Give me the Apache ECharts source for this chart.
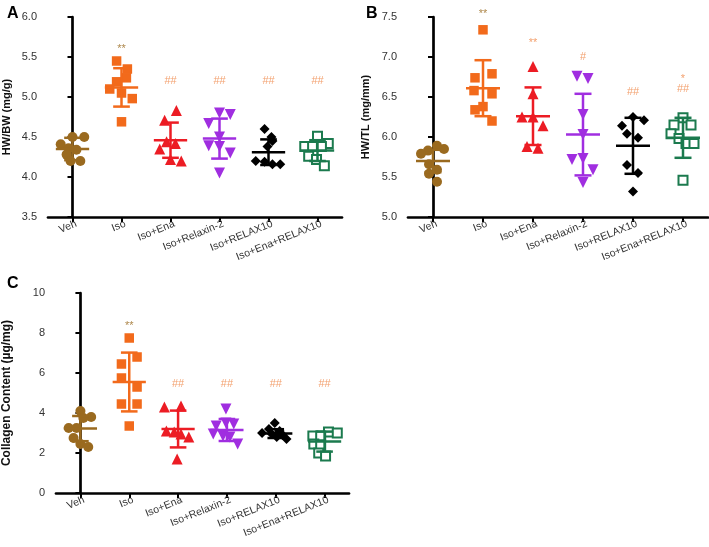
<!DOCTYPE html>
<html><head><meta charset="utf-8">
<script src="https://cdn.jsdelivr.net/npm/echarts@6/dist/echarts.min.js"></script>
<style>html,body{margin:0;padding:0;background:#fff}#c{width:709px;height:547px}</style>
</head><body><div id="c"></div>
<script>
// ---- categories ----
const categories = ['Veh','Iso','Iso+Ena','Iso+Relaxin-2','Iso+RELAX10','Iso+Ena+RELAX10'];

// ---- Panel A: HW/BW (mg/g) ----
const aVeh   = [4.41,4.50,4.50,4.36,4.34,4.28,4.20,4.20];
const aIso   = [5.45,5.35,5.24,5.19,5.10,5.05,4.98,4.69];
const aEna   = [4.83,4.71,4.44,4.42,4.35,4.22,4.20];
const aRlx2  = [4.80,4.78,4.67,4.50,4.39,4.38,4.30,4.05];
const aRlx10 = [4.60,4.50,4.45,4.38,4.20,4.19,4.16,4.16];
const aEnaRlx= [4.51,4.42,4.38,4.38,4.38,4.26,4.22,4.14];
const aMean  = [4.35,5.12,4.46,4.48,4.31,4.33];
const aSd    = [0.14,0.24,0.22,0.25,0.16,0.13];
const aMarks = ['','**','##','##','##','##'];
const aMarkY = [null,5.60,5.20,5.20,5.20,5.20];

// ---- Panel B: HW/TL (mg/mm) ----
const bVeh   = [5.89,5.85,5.83,5.79,5.66,5.59,5.54,5.44];
const bIso   = [7.34,6.79,6.74,6.58,6.54,6.38,6.34,6.20];
const bEna   = [6.88,6.54,6.25,6.25,6.14,5.88,5.86];
const bRlx2  = [6.76,6.73,6.28,6.03,5.73,5.72,5.59,5.43];
const bRlx10 = [6.25,6.21,6.14,6.04,5.99,5.65,5.55,5.32];
const bEnaRlx= [6.24,6.15,6.15,6.04,5.98,5.92,5.92,5.46];
const bMean  = [5.70,6.61,6.26,6.03,5.89,5.99];
const bSd    = [0.14,0.35,0.36,0.51,0.35,0.25];
const bMarks = ['','**','**','#','##','##'];
const bMarkY = [null,7.54,7.17,7.0,6.56,6.60];
const bMarks2 = ['','','','','','*'];
const bMarkY2 = [null,null,null,null,null,6.72];

// ---- Panel C: Collagen Content (µg/mg) ----
const cVeh   = [4.10,3.80,3.75,3.25,3.25,2.75,2.45,2.30];
const cIso   = [7.75,6.80,6.45,5.75,5.30,4.45,4.45,3.35];
const cEna   = [4.35,4.30,3.10,3.05,2.95,2.80,1.70];
const cRlx2  = [4.20,3.50,3.45,3.35,2.95,2.85,2.80,2.45];
const cRlx10 = [3.50,3.20,3.10,3.00,2.95,2.90,2.80,2.70];
const cEnaRlx= [3.05,3.00,2.85,2.85,2.45,2.40,2.00,1.85];
const cMean  = [3.22,5.55,3.20,3.15,2.97,2.57];
const cSd    = [0.63,1.47,0.92,0.55,0.22,0.50];
const cMarks = ['','**','##','##','##','##'];
const cMarkY = [null,8.35,5.45,5.45,5.45,5.45];

// ---- horizontal jitter of points (fraction of a category) ----
const jA = [
  [-0.24,0,0.24,-0.08,0.08,-0.12,-0.04,0.16],
  [-0.1,0.12,0.1,-0.1,-0.24,0,0.22,0],
  [0.12,-0.12,-0.08,0.1,-0.22,0,0.22],
  [0,0.22,-0.22,0,-0.22,0,0.22,0],
  [-0.08,0.06,0.08,-0.02,-0.26,-0.08,0.08,0.24],
  [0,0.22,-0.26,-0.1,0.08,-0.18,-0.02,0.14]
];
const jB = [
  [0.08,0.22,-0.1,-0.24,-0.08,0.08,-0.08,0.08],
  [0,0.18,-0.16,-0.18,0.18,0,-0.16,0.18],
  [0,0,-0.22,0,0.2,-0.12,0.1],
  [-0.12,0.1,0,0,0,-0.22,0.2,0],
  [0,0.22,-0.22,-0.12,0.1,-0.12,0.1,0],
  [0,-0.18,0.16,-0.24,-0.08,0.06,0.22,0]
];
const jC = [
  [0,0.22,0.06,-0.24,-0.08,-0.14,0,0.16],
  [0,0.16,-0.16,-0.16,0.16,-0.16,0.16,0],
  [0.06,-0.28,-0.24,-0.08,0.06,0.22,-0.02],
  [-0.02,-0.02,0.14,-0.22,-0.28,-0.08,0.06,0.22],
  [-0.02,-0.14,0.08,-0.28,-0.08,0.14,0.02,0.22],
  [0.08,0.26,-0.24,-0.08,-0.22,-0.08,-0.12,0.02]
];

const colors = ['#9a6a1f','#f26a1b','#ec1c24','#a02ee0','#000000','#1b7a4e'];
const markColorStrong = '#9a6a1f';
const markColor = '#f08a4b';
const symbols = ['circle','rect','triangle','triangle','diamond','rect'];
const symRot  = [0,0,0,180,0,0];
const symSize = [10,9.5,11,11,10,9];
const FONT = 'Arial, "Liberation Sans", Helvetica, sans-serif';

const panels = [
  {groups:[aVeh,aIso,aEna,aRlx2,aRlx10,aEnaRlx], jit:jA, mean:aMean, sd:aSd,
   marks:[[aMarks,aMarkY]], min:3.5, max:6.0, interval:0.5, dec:1,
   grid:{left:42, top:17, width:300, height:200}, name:'HW/BW (mg/g)', nameGap:36, nameSize:11},
  {groups:[bVeh,bIso,bEna,bRlx2,bRlx10,bEnaRlx], jit:jB, mean:bMean, sd:bSd,
   marks:[[bMarks,bMarkY],[bMarks2,bMarkY2]], min:5.0, max:7.5, interval:0.5, dec:1,
   grid:{left:408, top:17, width:300, height:200}, name:'HW/TL (mg/mm)', nameGap:37, nameSize:11},
  {groups:[cVeh,cIso,cEna,cRlx2,cRlx10,cEnaRlx], jit:jC, mean:cMean, sd:cSd,
   marks:[[cMarks,cMarkY]], min:0, max:10, interval:2, dec:0,
   grid:{left:49, top:293, width:300, height:200}, name:'Collagen Content (µg/mg)', nameGap:43, nameSize:12}
];

const grid = [], xAxis = [], yAxis = [], series = [];
panels.forEach((p, pi) => {
  grid.push(Object.assign({containLabel:false}, p.grid));
  xAxis.push({type:'category', gridIndex:pi, data:categories, boundaryGap:true,
    axisLine:{show:true, lineStyle:{color:'#000', width:2.7}},
    axisTick:{show:true, alignWithLabel:true, length:5, lineStyle:{color:'#000', width:2}},
    axisLabel:{rotate:22, fontSize:10.5, color:'#333', margin:8, fontFamily:FONT, interval:0,
      padding:[0,-4,0,0]},
    splitLine:{show:false}});
  xAxis.push({type:'value', gridIndex:pi, min:-0.5, max:5.5, show:false, splitLine:{show:false}});
  yAxis.push({type:'value', gridIndex:pi, min:p.min, max:p.max, interval:p.interval,
    name:p.name, nameLocation:'middle', nameGap:p.nameGap, nameRotate:90,
    nameTextStyle:{fontWeight:'bold', fontSize:p.nameSize, color:'#111', fontFamily:FONT},
    axisLine:{show:true, lineStyle:{color:'#000', width:2.7}},
    axisTick:{show:true, length:5, lineStyle:{color:'#000', width:2}},
    axisLabel:{fontSize:11, color:'#333', margin:11, fontFamily:FONT,
      formatter:v => v.toFixed(p.dec)},
    splitLine:{show:false}});
  const xi = pi*2 + 1;
  p.groups.forEach((vals, gi) => {
    const hollow = gi === 5;
    series.push({type:'scatter', xAxisIndex:xi, yAxisIndex:pi, clip:false,
      symbol:symbols[gi], symbolRotate:symRot[gi], symbolSize:symSize[gi],
      itemStyle: hollow ? {color:'#fff', borderColor:colors[gi], borderWidth:2, opacity:1}
                        : {color:colors[gi], opacity:1},
      data: vals.map((v, k) => [gi + p.jit[gi][k], v]), z:2, silent:true});
  });
  series.push({type:'custom', xAxisIndex:xi, yAxisIndex:pi, clip:false, z:3, silent:true,
    data: p.mean.map((m, gi) => [gi, m, p.sd[gi]]),
    renderItem:(params, api) => {
      const gi = api.value(0), m = api.value(1), s = api.value(2);
      const c = api.coord([gi, m]);
      const top = api.coord([gi, m + s]);
      const bot = api.coord([gi, m - s]);
      const w = api.size([1, 0])[0];
      const hw = w * 0.34, cw = w * 0.17;
      const st = {stroke:colors[gi], lineWidth:2.5, fill:null};
      return {type:'group', children:[
        {type:'line', shape:{x1:c[0]-hw, y1:c[1], x2:c[0]+hw, y2:c[1]}, style:st},
        {type:'line', shape:{x1:c[0], y1:top[1], x2:c[0], y2:bot[1]}, style:st},
        {type:'line', shape:{x1:c[0]-cw, y1:top[1], x2:c[0]+cw, y2:top[1]}, style:st},
        {type:'line', shape:{x1:c[0]-cw, y1:bot[1], x2:c[0]+cw, y2:bot[1]}, style:st}
      ]};
    }});
  p.marks.forEach(([txt, ys]) => {
    const data = [];
    txt.forEach((t, gi) => { if (t) data.push({value:[gi, ys[gi]], t:t, gi:gi}); });
    series.push({type:'scatter', xAxisIndex:xi, yAxisIndex:pi, clip:false, symbolSize:0, silent:true,
      data: data.map(d => ({value:d.value,
        label:{show:true, position:'inside', formatter:d.t, fontSize:11, fontFamily:FONT,
          color: d.t === '**' && d.gi === 1 ? markColorStrong : markColor}})),
      z:4});
  });
});

const chart = echarts.init(document.getElementById('c'), null, {renderer:'canvas'});
chart.setOption({
  animation:false,
  backgroundColor:'#fff',
  title:[
    {text:'A', left:2, top:1, textStyle:{fontSize:16, fontWeight:'bold', color:'#000', fontFamily:FONT}},
    {text:'B', left:361, top:1, textStyle:{fontSize:16, fontWeight:'bold', color:'#000', fontFamily:FONT}},
    {text:'C', left:2, top:271, textStyle:{fontSize:16, fontWeight:'bold', color:'#000', fontFamily:FONT}}
  ],
  grid, xAxis, yAxis, series
});
</script></body></html>
